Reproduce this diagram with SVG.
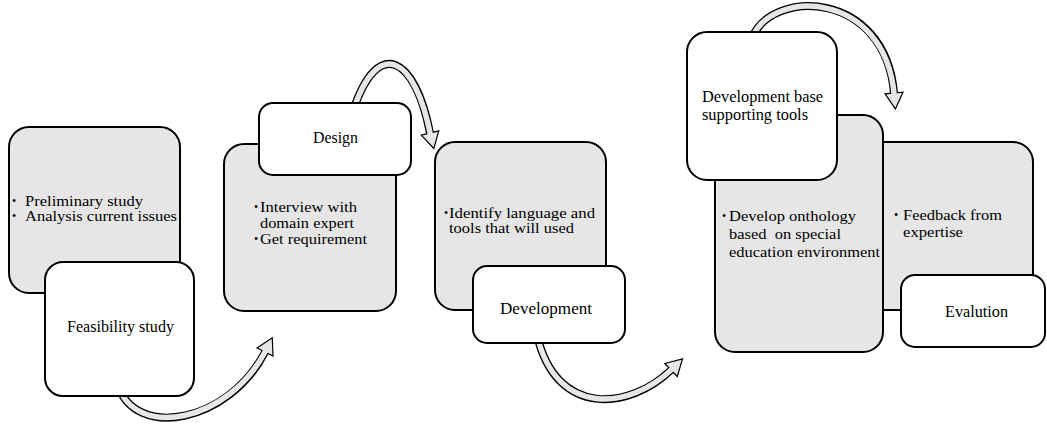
<svg xmlns="http://www.w3.org/2000/svg" width="1047" height="425" viewBox="0 0 1047 425">
<style>
.g{fill:#e6e6e6;stroke:#000;stroke-width:2}
.w{fill:#fff;stroke:#000;stroke-width:2}
.t{font-family:"Liberation Serif","Times New Roman",serif;font-size:15px;fill:#000}
.l{font-family:"Liberation Serif","Times New Roman",serif;font-size:16px;fill:#000}
.b{font-family:"Liberation Serif","Times New Roman",serif;font-size:12px;fill:#000}
.so{fill:none;stroke:#000;stroke-width:8}
.si{fill:none;stroke:#e6e6e6;stroke-width:5.5}
.hd{fill:#e6e6e6;stroke:#000;stroke-width:1.2;stroke-linejoin:miter}
</style>
<defs>
<polygon id="head" points="0,-9 16,0 0,9"/>
</defs>
<g id="connectors">
<use href="#head" class="hd" transform="translate(265,352) rotate(-63)"/>
<path class="so" d="M118 385 C135 440 229 423 265 352"/>
<path class="si" d="M118 385 C135 440 229 423 266 350"/>
<use href="#head" class="hd" transform="translate(430,133) rotate(76)"/>
<path class="so" d="M354 108 C378 38 415 55 430 133"/>
<path class="si" d="M354 108 C378 38 415 55 430.6 135.5"/>
<use href="#head" class="hd" transform="translate(671,370) rotate(-44)"/>
<path class="so" d="M537 335 C556 418 630 410 671 370"/>
<path class="si" d="M537 335 C556 418 630 410 672.5 368.6"/>
<use href="#head" class="hd" transform="translate(894,93) rotate(85)"/>
<path class="so" d="M752 38 C772 -12 885 -10 894 93"/>
<path class="si" d="M752 38 C772 -12 885 -10 894.2 95"/>
</g>
<g id="n1">
<rect class="g" x="9" y="127" width="171" height="166" rx="20"/>
<text class="b" x="12" y="205">•</text>
<text class="t" x="25" y="206" textLength="118" lengthAdjust="spacingAndGlyphs">Preliminary study</text>
<text class="b" x="12" y="220">•</text>
<text class="t" x="25" y="221" textLength="152" lengthAdjust="spacingAndGlyphs">Analysis current issues</text>
</g>
<g id="feasibility">
<rect class="w" x="45" y="262" width="149" height="134" rx="18"/>
<text class="l" x="67" y="332" textLength="107" lengthAdjust="spacingAndGlyphs">Feasibility study</text>
</g>
<g id="n2">
<rect class="g" x="224" y="144" width="172" height="167" rx="20"/>
<text class="b" x="254" y="211">•</text>
<text class="t" x="260" y="212" textLength="97" lengthAdjust="spacingAndGlyphs">Interview with</text>
<text class="t" x="260" y="228" textLength="94" lengthAdjust="spacingAndGlyphs">domain expert</text>
<text class="b" x="254" y="243">•</text>
<text class="t" x="260" y="244" textLength="107" lengthAdjust="spacingAndGlyphs">Get requirement</text>
</g>
<g id="design">
<rect class="w" x="259" y="103" width="152" height="72" rx="14"/>
<text class="l" x="313" y="143" textLength="45" lengthAdjust="spacingAndGlyphs">Design</text>
</g>
<g id="n3">
<rect class="g" x="435" y="142" width="171" height="168" rx="20"/>
<text class="b" x="444" y="217">•</text>
<text class="t" x="449" y="218" textLength="146" lengthAdjust="spacingAndGlyphs">Identify language and</text>
<text class="t" x="449" y="233" textLength="125" lengthAdjust="spacingAndGlyphs">tools that will used</text>
</g>
<g id="development">
<rect class="w" x="473" y="266" width="152" height="77" rx="14"/>
<text class="l" x="500" y="314" textLength="92" lengthAdjust="spacingAndGlyphs">Development</text>
</g>
<g id="n5">
<rect class="g" x="860" y="142" width="173" height="168" rx="20"/>
<text class="b" x="894" y="219">•</text>
<text class="t" x="903" y="220" textLength="99" lengthAdjust="spacingAndGlyphs">Feedback from</text>
<text class="t" x="903" y="237" textLength="60" lengthAdjust="spacingAndGlyphs">expertise</text>
</g>
<g id="evalution">
<rect class="w" x="901" y="275" width="144" height="72" rx="14"/>
<text class="l" x="945" y="317" textLength="63" lengthAdjust="spacingAndGlyphs">Evalution</text>
</g>
<g id="n4">
<rect class="g" x="715" y="115" width="168" height="237" rx="20"/>
<text class="b" x="722" y="220">•</text>
<text class="t" x="729" y="221" textLength="127" lengthAdjust="spacingAndGlyphs">Develop onthology</text>
<text class="t" x="729" y="239" textLength="112" lengthAdjust="spacingAndGlyphs" style="white-space:pre">based  on special</text>
<text class="t" x="729" y="257" textLength="151" lengthAdjust="spacingAndGlyphs">education environment</text>
</g>
<g id="devbase">
<rect class="w" x="687" y="32" width="150" height="148" rx="20"/>
<text class="l" x="702" y="102" textLength="121" lengthAdjust="spacingAndGlyphs">Development base</text>
<text class="l" x="702" y="120" textLength="106" lengthAdjust="spacingAndGlyphs">supporting tools</text>
</g>
</svg>
